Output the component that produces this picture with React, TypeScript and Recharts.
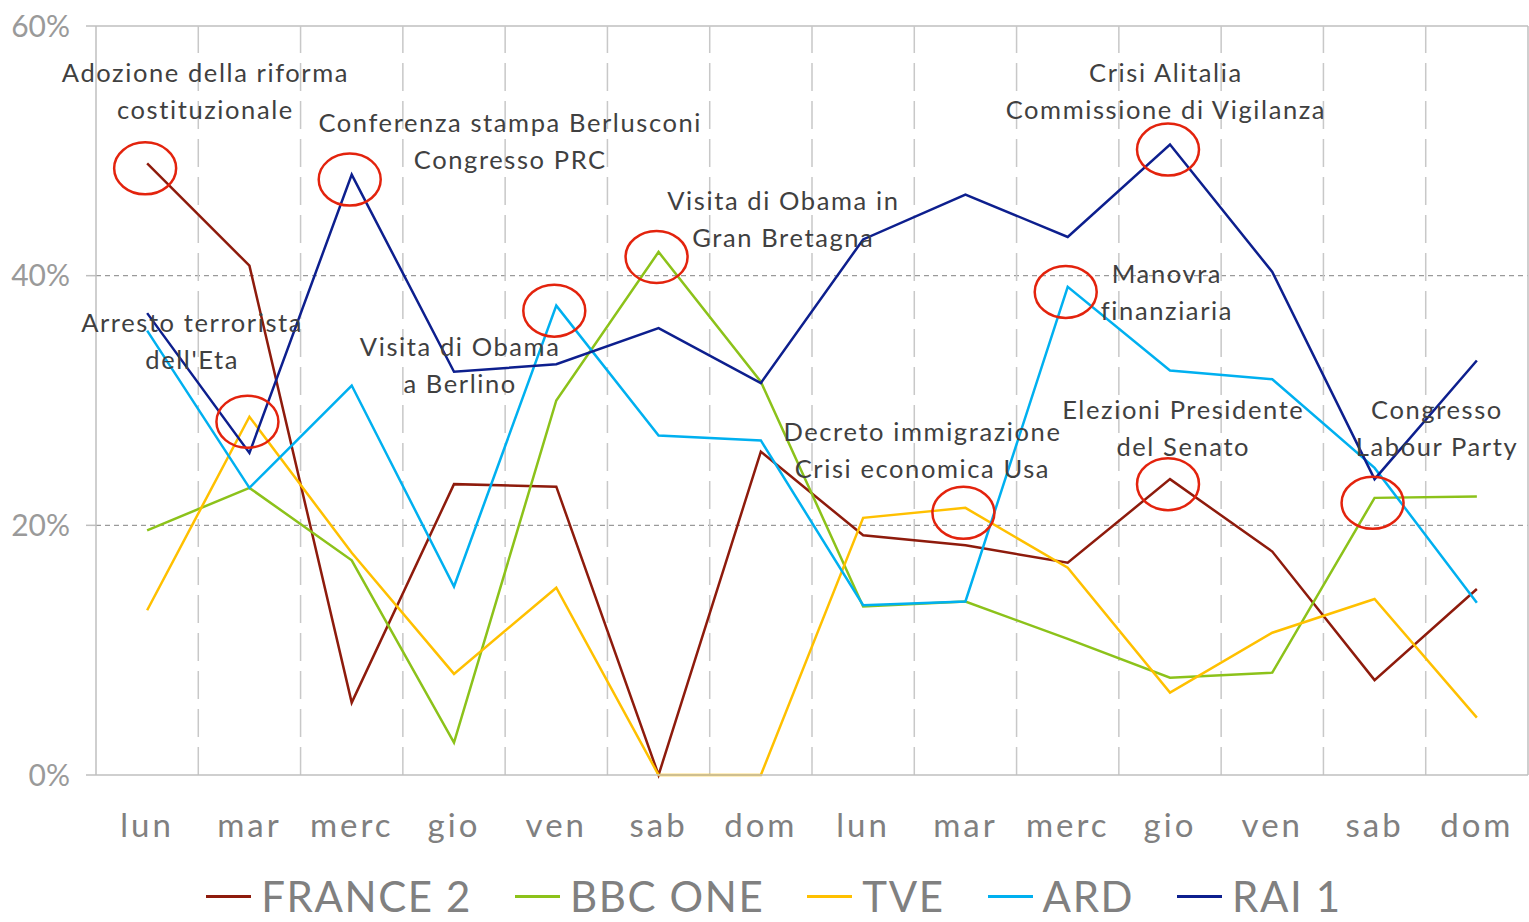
import React from 'react';
import {
  ComposedChart,
  Line,
  XAxis,
  YAxis,
  ReferenceLine,
  ReferenceDot,
  Legend,
} from 'recharts';

const days = ['lun', 'mar', 'merc', 'gio', 'ven', 'sab', 'dom', 'lun', 'mar', 'merc', 'gio', 'ven', 'sab', 'dom'];

const france2 = [49.0, 40.8, 5.8, 23.3, 23.1, 0, 25.9, 19.2, 18.4, 17.0, 23.7, 17.9, 7.6, 14.9];
const bbcOne = [19.6, 23.0, 17.2, 2.6, 30.0, 41.9, 31.5, 13.5, 13.9, 10.9, 7.8, 8.2, 22.2, 22.3];
const tve = [13.2, 28.7, 17.8, 8.1, 15.0, 0, 0, 20.6, 21.4, 16.6, 6.6, 11.4, 14.1, 4.6];
const ard = [35.6, 23.0, 31.2, 15.1, 37.6, 27.2, 26.8, 13.6, 13.9, 39.1, 32.4, 31.7, 24.6, 13.8];
const rai1 = [37.0, 25.8, 48.1, 32.3, 32.9, 35.8, 31.4, 42.9, 46.5, 43.1, 50.5, 40.3, 23.7, 33.2];

const yTicks = [0, 20, 40, 60];

// points circled in red, by day index
const highlights: Record<string, number[]> = {
  france2: [0, 10],
  bbcOne: [5, 12],
  tve: [1, 8],
  ard: [4, 9],
  rai1: [2, 10],
};

const annotations = [
  { x: 0.57, y: 56.2, lines: ['Adozione della riforma', 'costituzionale'] },
  { x: 3.55, y: 52.2, lines: ['Conferenza stampa Berlusconi', 'Congresso PRC'] },
  { x: 6.22, y: 46.0, lines: ['Visita di Obama in', 'Gran Bretagna'] },
  { x: 0.44, y: 36.2, lines: ['Arresto terrorista', "dell'Eta"] },
  { x: 3.06, y: 34.3, lines: ['Visita di Obama', 'a Berlino'] },
  { x: 9.96, y: 56.2, lines: ['Crisi Alitalia', 'Commissione di Vigilanza'] },
  { x: 9.97, y: 40.1, lines: ['Manovra', 'finanziaria'] },
  { x: 7.58, y: 27.5, lines: ['Decreto immigrazione', 'Crisi economica Usa'] },
  { x: 10.13, y: 29.2, lines: ['Elezioni Presidente', 'del Senato'] },
  { x: 12.61, y: 29.2, lines: ['Congresso', 'Labour Party'] },
];

const series = [
  { key: 'france2', name: 'FRANCE 2', color: '#8E1B0C' },
  { key: 'bbcOne', name: 'BBC ONE', color: '#8CC21A' },
  { key: 'tve', name: 'TVE', color: '#FFC000' },
  { key: 'ard', name: 'ARD', color: '#00B0F0' },
  { key: 'rai1', name: 'RAI 1', color: '#0D1F8E' },
];

const data = days.map((day, i) => ({
  x: i,
  day,
  france2: france2[i],
  bbcOne: bbcOne[i],
  tve: tve[i],
  ard: ard[i],
  rai1: rai1[i],
}));

const FONT = "'Century Gothic', Lato, 'Open Sans', sans-serif";

const circleDot = (key: string) => (props: any) => {
  const { cx, cy, index } = props;
  if (!highlights[key].includes(index)) return <g key={`d-${key}-${index}`} />;
  return (
    <ellipse
      key={`d-${key}-${index}`}
      cx={cx - 2}
      cy={cy + 5}
      rx={31}
      ry={26}
      fill="none"
      stroke="#E3230D"
      strokeWidth={2.5}
    />
  );
};

const annotationShape = (lines: string[]) => (props: any) => {
  const { cx, cy } = props;
  return (
    <text textAnchor="middle" fontSize={25.5} letterSpacing={1.6} fill="#404040" fontFamily={FONT}>
      {lines.map((l, i) => (
        <tspan key={i} x={cx} y={cy + i * 37} dy="0.35em">
          {l}
        </tspan>
      ))}
    </text>
  );
};

const LegendContent = () => (
  <div
    style={{
      height: 60,
      display: 'flex',
      justifyContent: 'center',
      alignItems: 'flex-start',
      paddingTop: 30,
      paddingLeft: 20,
      boxSizing: 'border-box',
      fontFamily: FONT,
    }}
  >
    {series.map((s, i) => (
      <div
        key={s.key}
        style={{
          display: 'flex',
          alignItems: 'center',
          marginRight: i < series.length - 1 ? 43 : 0,
          lineHeight: '42px',
        }}
      >
        <div style={{ width: 45, height: 3, background: s.color, marginRight: 10 }} />
        <span style={{ fontSize: 42, letterSpacing: 1.6, color: '#808080' }}>{s.name}</span>
      </div>
    ))}
  </div>
);

export default function App() {
  return (
    <div style={{ position: 'absolute', left: 0, top: 0, width: 1529, height: 922, background: '#fff', overflow: 'hidden' }}>
      <ComposedChart
        width={1529}
        height={922}
        data={data}
        margin={{ top: 26, right: 1, left: 0, bottom: 17 }}
      >
        <XAxis
          dataKey="x"
          type="number"
          domain={[-0.5, 13.5]}
          ticks={data.map(d => d.x)}
          tickFormatter={(v: number) => days[v]}
          axisLine={{ stroke: '#BFBFBF', strokeWidth: 1.5 }}
          tickLine={false}
          tickSize={0}
          tickMargin={39}
          height={70}
          tick={{ fill: '#808080', fontSize: 33, letterSpacing: 3, fontFamily: FONT }}
          interval={0}
        />
        <YAxis
          type="number"
          domain={[0, 60]}
          ticks={yTicks}
          tickFormatter={(v: number) => `${v}%`}
          width={96}
          axisLine={{ stroke: '#BFBFBF', strokeWidth: 1.5 }}
          tickLine={{ stroke: '#BFBFBF', strokeWidth: 1.5 }}
          tickSize={10}
          tickMargin={16}
          tick={{ fill: '#9A9A9A', fontSize: 30, fontFamily: FONT }}
        />
        {[20, 40].map(v => (
          <ReferenceLine key={`h${v}`} y={v} stroke="#9A9A9A" strokeDasharray="5 4" strokeWidth={1.2} />
        ))}
        <ReferenceLine y={60} stroke="#BFBFBF" strokeWidth={1.5} />
        {days.slice(1).map((_, i) => (
          <ReferenceLine key={`v${i}`} x={i + 0.5} stroke="#C8C8C8" strokeDasharray="28 10" strokeWidth={1.5} />
        ))}
        <ReferenceLine x={13.5} stroke="#BFBFBF" strokeWidth={1.5} />
        {series.map(s => (
          <Line
            key={s.key}
            type="linear"
            dataKey={s.key}
            name={s.name}
            stroke={s.color}
            strokeWidth={2.5}
            dot={circleDot(s.key)}
            activeDot={false}
            isAnimationActive={false}
          />
        ))}
        {annotations.map((a, i) => (
          <ReferenceDot key={`a${i}`} x={a.x} y={a.y} r={0} shape={annotationShape(a.lines)} ifOverflow="visible" />
        ))}
        <Legend verticalAlign="bottom" height={60} content={<LegendContent />} />
      </ComposedChart>
    </div>
  );
}
